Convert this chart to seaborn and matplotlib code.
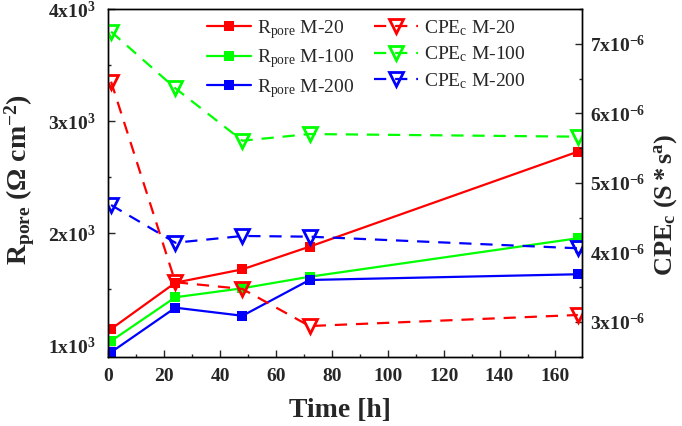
import matplotlib
matplotlib.use("Agg")
import matplotlib.pyplot as plt
import seaborn as sns
import numpy as np
from matplotlib.ticker import FixedLocator, FixedFormatter, MultipleLocator
from matplotlib.lines import Line2D

# ---- data ----
time_h = [1, 24, 48, 72, 168]
rpore_m20 = [1147, 1560, 1679, 1881, 2728]
rpore_m100 = [1040, 1430, 1510, 1613, 1956]
rpore_m200 = [940, 1337, 1265, 1584, 1635]
cpe_m20 = [6.455e-6, 3.571e-6, 3.474e-6, 2.941e-6, 3.100e-6]
cpe_m100 = [7.174e-6, 6.360e-6, 5.606e-6, 5.702e-6, 5.664e-6]
cpe_m200 = [4.681e-6, 4.139e-6, 4.236e-6, 4.226e-6, 4.059e-6]

series_names = ["M-20", "M-100", "M-200"]
colors = ["#FF0000", "#00FF00", "#0000FF"]

left_ticks = [1000, 2000, 3000, 4000]
left_ticklabels = [r"$\mathbf{1x10^{3}}$", r"$\mathbf{2x10^{3}}$",
                   r"$\mathbf{3x10^{3}}$", r"$\mathbf{4x10^{3}}$"]
right_ticks = [3e-6, 4e-6, 5e-6, 6e-6, 7e-6]
right_ticklabels = [r"$\mathbf{3x10^{-6}}$", r"$\mathbf{4x10^{-6}}$",
                    r"$\mathbf{5x10^{-6}}$", r"$\mathbf{6x10^{-6}}$",
                    r"$\mathbf{7x10^{-6}}$"]
x_ticks = [0, 20, 40, 60, 80, 100, 120, 140, 160]

# ---- style ----
sns.set_style("ticks")
plt.rcParams["font.family"] = ["Liberation Serif", "DejaVu Serif"]
plt.rcParams["mathtext.fontset"] = "custom"
plt.rcParams["mathtext.rm"] = "Liberation Serif"
plt.rcParams["mathtext.it"] = "Liberation Serif:italic"
plt.rcParams["mathtext.bf"] = "Liberation Serif:bold"

fig = plt.figure(figsize=(6.82, 4.26), dpi=100)
ax = fig.add_axes([108.3 / 682, 1 - 356.7 / 426, (582 - 108.3) / 682, (356.7 - 9) / 426])
ax2 = ax.twinx()

r_series = [rpore_m20, rpore_m100, rpore_m200]
c_series = [cpe_m20, cpe_m100, cpe_m200]

for vals, col in zip(r_series, colors):
    sns.lineplot(x=time_h, y=vals, ax=ax, color=col, marker="s", markersize=7.5,
                 markeredgewidth=0, linewidth=1.6, legend=False)
for vals, col in zip(c_series, colors):
    sns.lineplot(x=time_h, y=vals, ax=ax2, color=col, marker="v", markersize=10,
                 markerfacecolor="none", markeredgecolor=col, markeredgewidth=2,
                 linewidth=1.6, dashes=(5.5, 4), legend=False)

ax.set_xlim(0, 169.5)
ax.set_ylim(900, 4000)
ax2.set_ylim(2.5e-6, 7.5e-6)

ax.xaxis.set_major_locator(FixedLocator(x_ticks))
ax.xaxis.set_minor_locator(MultipleLocator(10))
ax.yaxis.set_major_locator(FixedLocator(left_ticks))
ax.yaxis.set_major_formatter(FixedFormatter(left_ticklabels))
ax.yaxis.set_minor_locator(MultipleLocator(500))
ax2.yaxis.set_major_locator(FixedLocator(right_ticks))
ax2.yaxis.set_major_formatter(FixedFormatter(right_ticklabels))
ax2.yaxis.set_minor_locator(MultipleLocator(0.5e-6))

for a in (ax, ax2):
    for s in a.spines.values():
        s.set_visible(True)
        s.set_linewidth(1.0)
        s.set_color("black")

ax.tick_params(axis="both", which="major", direction="in", length=4.7, width=1.0,
               labelsize=14, top=False, right=False)
ax.tick_params(axis="both", which="minor", direction="in", length=2.5, width=1.0,
               top=False, right=False)
ax.tick_params(axis="x", pad=8)
ax.tick_params(axis="y", pad=9)
ax2.tick_params(axis="y", which="major", direction="in", length=4.7, width=1.0,
                labelsize=14, pad=6)
ax2.tick_params(axis="y", which="minor", direction="in", length=2.5, width=1.0)
for lab in ax.get_xticklabels():
    lab.set_fontweight("bold")

ax.set_xlabel("Time [h]", fontsize=20, fontweight="bold")
ax.xaxis.set_label_coords(0.488, -0.119)
ax.set_ylabel(r"$\mathbf{R_{pore}}$ $\mathbf{(\Omega\ cm^{-2})}$", fontsize=20)
ax.yaxis.set_label_coords(-0.15, 0.51)
ax2.set_ylabel(r"$\mathbf{CPE_{c}\ (S*s^{a})}$", fontsize=19, rotation=90)
ax2.yaxis.set_label_coords(1.148, 0.436)

# legend
handles = []
labels = []
for name, col in zip(series_names, colors):
    handles.append(Line2D([], [], color=col, marker="s", markersize=7.5,
                          markeredgewidth=0, linewidth=1.6))
    labels.append(r"R$_{\mathrm{pore}}$ " + name)
for name, col in zip(series_names, colors):
    handles.append(Line2D([], [], color=col, marker="v", markersize=10,
                          markerfacecolor="none", markeredgecolor=col,
                          markeredgewidth=2, linewidth=1.6, dashes=(5.5, 4)))
    labels.append(r"CPE$_{\mathrm{c}}$ " + name)

leg = ax2.legend(handles, labels, ncol=2, frameon=False, fontsize=14,
                 loc="upper left", bbox_to_anchor=(193 / 682, 1 - 4 / 426),
                 bbox_transform=fig.transFigure, handlelength=2.3,
                 handletextpad=0.3, columnspacing=1.0, labelspacing=0.35,
                 borderpad=0.2)

fig.savefig("out.png", dpi=100)
